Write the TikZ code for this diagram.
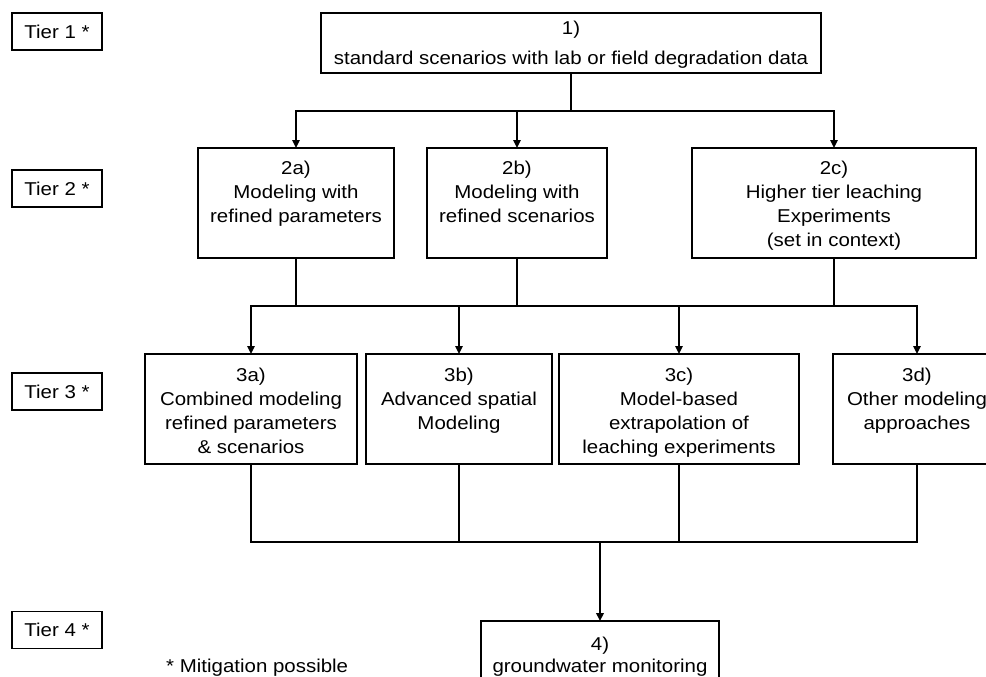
\documentclass[tikz,border=0pt]{standalone}
\usepackage{fontspec}
\setmainfont{Liberation Sans}[FakeStretch=1.1]
\usetikzlibrary{arrows.meta}

\tikzset{
  lw/.style={line width=1.5pt},
  frame/.style={draw, lw, rectangle, inner sep=0pt, outer sep=0pt},
  tierbox/.style={frame, minimum width=90pt, minimum height=37pt,
    font=\fontsize{18.6pt}{24pt}\selectfont},
  txt/.style={align=center, inner sep=0pt, anchor=north,
    font=\fontsize{18.6pt}{24pt}\selectfont},
  flow/.style={lw},
  trunk/.style={line width=2pt},
  arr/.style={-{Triangle[length=8pt,width=7.5pt]}},
}

\begin{document}
\begin{tikzpicture}[x=1pt, y=-1pt]
  \useasboundingbox (0,0) rectangle (986,677);
  \clip (0,0) rectangle (986,677);

  % tier labels on the left
  \node[tierbox] (t1) at (57,31.5) {Tier 1 *};
  \node[tierbox] (t2) at (57,188.5) {Tier 2 *};
  \node[tierbox] (t3) at (57,391.5) {Tier 3 *};
  \node[tierbox] (t4) at (57,630) {Tier 4 *};
  \node[anchor=base west, inner sep=0pt,
        font=\fontsize{18.6pt}{24pt}\selectfont] (note) at (166,672.7)
        {* Mitigation possible};

  % tier 1
  \node[frame, minimum width=500pt, minimum height=60pt] (b1) at (571,43) {};
  \node[txt] (b1t) at ([yshift=-8pt]b1.north)
        {1)\\[6pt]standard scenarios with lab or field degradation data};

  % tier 2
  \node[frame, minimum width=196pt, minimum height=110pt] (b2a) at (296,203) {};
  \node[frame, minimum width=180pt, minimum height=110pt] (b2b) at (517,203) {};
  \node[frame, minimum width=284pt, minimum height=110pt] (b2c) at (834,203) {};
  \node[txt] (b2at) at ([yshift=-13pt]b2a.north) {2a)\\Modeling with\\refined parameters};
  \node[txt] (b2bt) at ([yshift=-13pt]b2b.north) {2b)\\Modeling with\\refined scenarios};
  \node[txt] (b2ct) at ([yshift=-13pt]b2c.north)
        {2c)\\Higher tier leaching\\Experiments\\(set in context)};

  % tier 3
  \node[frame, minimum width=212pt, minimum height=110pt] (b3a) at (251,409) {};
  \node[frame, minimum width=186pt, minimum height=110pt] (b3b) at (459,409) {};
  \node[frame, minimum width=240pt, minimum height=110pt] (b3c) at (679,409) {};
  \node[frame, minimum width=168pt, minimum height=110pt] (b3d) at (917,409) {};
  \node[txt] (b3at) at ([yshift=-14pt]b3a.north)
        {3a)\\Combined modeling\\refined parameters\\\& scenarios};
  \node[txt] (b3bt) at ([yshift=-14pt]b3b.north) {3b)\\Advanced spatial\\Modeling};
  \node[txt] (b3ct) at ([yshift=-14pt]b3c.north)
        {3c)\\Model-based\\extrapolation of\\leaching experiments};
  \node[txt] (b3dt) at ([yshift=-14pt]b3d.north) {3d)\\Other modeling\\approaches};

  % tier 4
  \node[frame, minimum width=238pt, minimum height=70pt] (b4) at (600,656) {};
  \node[txt] (b4t) at ([yshift=-15.5pt]b4.north) {4)\\[-2pt]groundwater monitoring};

  % junction points of the connectors
  \coordinate (j1) at (571,111);
  \coordinate (j2) at (517,306);
  \coordinate (j3) at (600,542);

  % tier 1 -> tier 2
  \draw[trunk] (b1.south) -- (j1);
  \draw[flow, arr] (j1) -| (b2a.north);
  \draw[flow, arr] (j1) -| (b2b.north);
  \draw[flow, arr] (j1) -| (b2c.north);

  % tier 2 -> tier 3
  \draw[flow] (b2a.south) |- (j2);
  \draw[flow] (b2b.south) -- (j2);
  \draw[flow] (b2c.south) |- (j2);
  \draw[flow, arr] (j2) -| (b3a.north);
  \draw[flow, arr] (j2) -| (b3b.north);
  \draw[flow, arr] (j2) -| (b3c.north);
  \draw[flow, arr] (j2) -| (b3d.north);

  % tier 3 -> tier 4
  \draw[flow] (b3a.south) |- (j3);
  \draw[flow] (b3b.south) |- (j3);
  \draw[flow] (b3c.south) |- (j3);
  \draw[flow] (b3d.south) |- (j3);
  \draw[trunk, arr] (j3) -- (b4.north);
\end{tikzpicture}
\end{document}
